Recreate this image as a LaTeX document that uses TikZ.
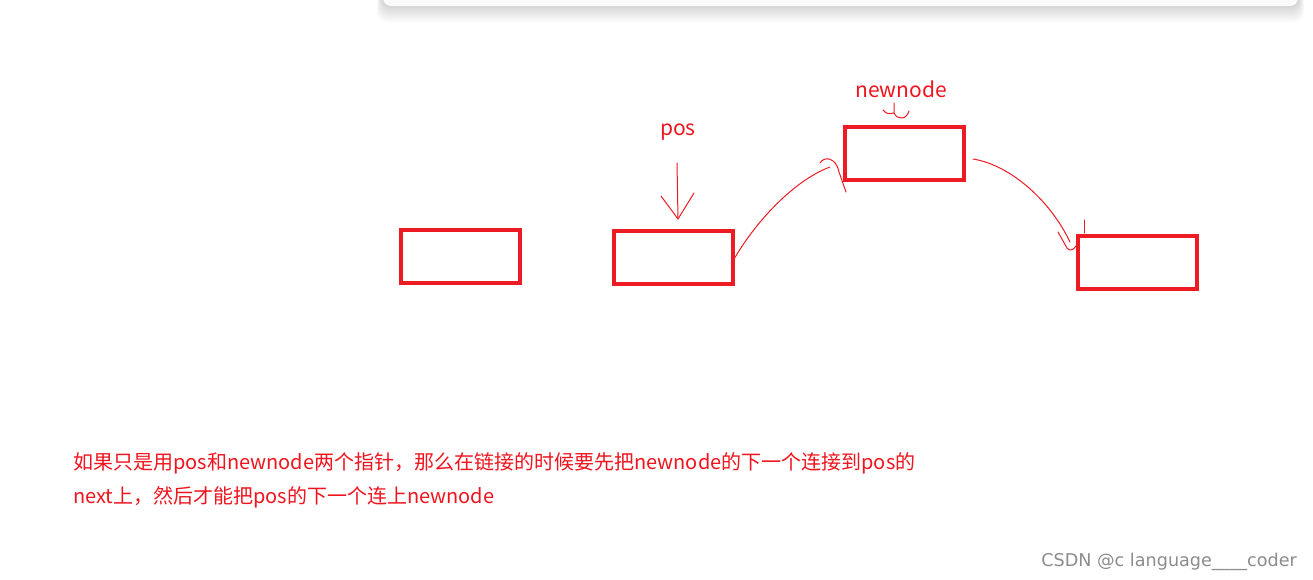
\documentclass[tikz,border=0pt]{standalone}
\usepackage{fontspec}
\newfontfamily\cjk{Noto Sans CJK SC}
\newfontfamily\wmfont{DejaVu Sans}
\usetikzlibrary{positioning,calc}
\definecolor{paintred}{RGB}{237,28,36}
\definecolor{textred}{RGB}{240,20,30}
\begin{document}
\begin{tikzpicture}[
  box/.style={draw=paintred,line width=4pt,minimum width=119pt,minimum height=53pt,inner sep=0pt},
  ink/.style={draw=paintred,line width=1pt,line cap=round,line join=round},
  lbl/.style={font=\cjk\fontsize{21}{24}\selectfont,text=textred,inner sep=0pt},
  note/.style={font=\cjk\fontsize{20}{24}\selectfont,text=textred,inner sep=0pt,anchor=base west},
  x=1pt, y=-1pt]
  \useasboundingbox (0,0) rectangle (1313,580);
  \fill[white] (0,0) rectangle (1313,580);
  % top bar with soft shadow
  \foreach \s in {2,4,...,18}{\fill[black,opacity=0.018,rounded corners=10pt] (383-\s/3,-10) rectangle (1298+\s/3,4+\s);}
  \fill[gray!4,rounded corners=8pt] (383,-10) rectangle (1298,6);
  % nodes
  \node[box] (first)   at (460.5,256.5) {};
  \node[box] (pos)     at (673.5,257.5) {};
  \node[box] (newnode) at (904.5,153.5) {};
  \node[box] (next)    at (1137.5,262.5) {};
  \node[lbl] (poslbl) at (678,132) {pos};
  \node[lbl] (newlbl) at (901,89) {newnode};
  % pos pointer
  \coordinate (ptail) at (677,163);
  \coordinate (phead) at (678,219);
  \draw[ink] (ptail) -- (phead);
  \draw[ink] ($(phead)+(-17,-23)$) -- (phead) -- ++(16,-26);
  % squiggle under newnode
  \coordinate (sq) at (894,113);
  \draw[ink] (883,110) .. controls (887,114) .. (sq) -- ++(0,-10);
  \draw[ink] (sq) .. controls (898,121) and (907,119) .. (909,111);
  % edges
  \coordinate (inhook) at (830,167);
  \draw[ink] (pos.east) .. controls (752,228) and (790,182) .. (inhook);
  \draw[ink] (820,163) .. controls (824,156) and (836,157) .. (839,172) -- (846,192);
  \coordinate (outstart) at (973,159);
  \coordinate (outhook) at (1070,242);
  \draw[ink] (outstart) .. controls (1010,165) and (1050,200) .. (outhook);
  \draw[ink] (1058,232) -- (1067,248) .. controls (1069,251) and (1073,251) .. (1076,246);
  \draw[ink] (1084,220) -- (1084,233);
  % note
  \node[note] (noteone) at (73,469) {如果只是用pos和newnode两个指针，那么在链接的时候要先把newnode的下一个连接到pos的};
  \node[note] (notetwo) at (73,503) {next上，然后才能把pos的下一个连上newnode};
  % watermark
  \node[font=\wmfont\fontsize{17.6}{20}\selectfont,text=black!45,anchor=base east,inner sep=0pt] (wm) at (1297,566) {CSDN @c language\_\_\_\_coder};
\end{tikzpicture}
\end{document}
